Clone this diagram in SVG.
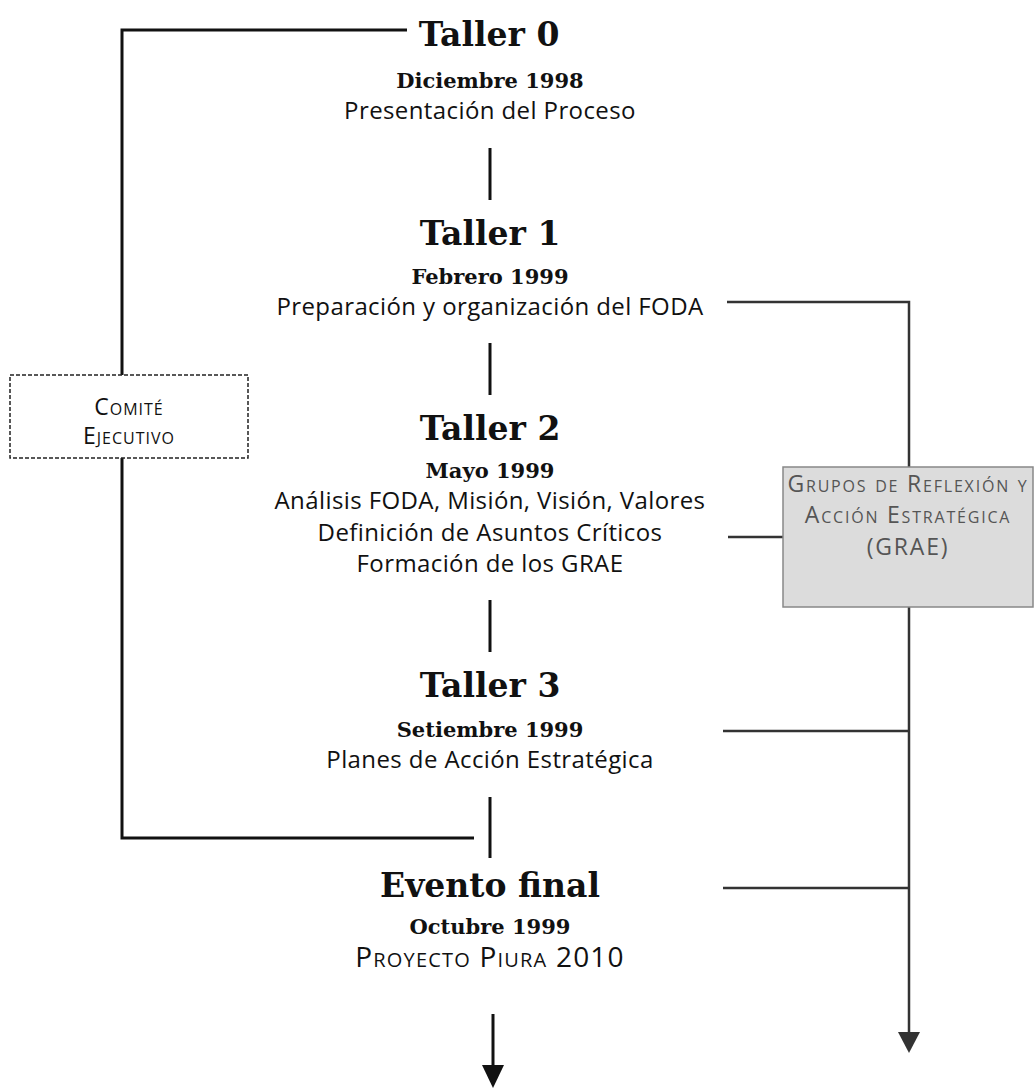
<svg xmlns="http://www.w3.org/2000/svg" width="1035" height="1088" viewBox="0 0 1035 1088">
<style>
.title{font-family:"DejaVu Serif","Liberation Serif",serif;font-weight:bold;font-size:33px;fill:#111;text-anchor:middle}
.date{font-family:"DejaVu Serif","Liberation Serif",serif;font-weight:bold;font-size:21px;fill:#111;text-anchor:middle}
.body{font-family:"Open Sans","Noto Sans",sans-serif;font-size:24px;letter-spacing:0.4px;fill:#111;text-anchor:middle}
.sc{font-variant:small-caps}
.ln{stroke:#111;stroke-width:3;fill:none}
.rl{stroke:#333;stroke-width:2.5;fill:none}
.grae{font-family:"Open Sans","Noto Sans",sans-serif;font-size:23px;letter-spacing:1.8px;fill:#555;text-anchor:middle;font-variant:small-caps}
</style>
<rect width="1035" height="1088" fill="#fff"/>
<g id="connectors">
  <path class="ln" d="M122,375 V30 H407"/>
  <path class="ln" d="M122,458 V838 H474"/>
  <path class="ln" d="M490,148 V200"/>
  <path class="ln" d="M490,343 V395"/>
  <path class="ln" d="M490,600 V652"/>
  <path class="ln" d="M490,797 V858"/>
  <path class="ln" d="M493,1014 V1068"/>
  <polygon points="482,1065 504,1065 493,1088" fill="#111"/>
  <path class="rl" d="M727,302 H909 V467"/>
  <path class="rl" d="M728,537 H783"/>
  <path class="rl" d="M909,607 V1036"/>
  <path class="rl" d="M723,731 H909"/>
  <path class="rl" d="M723,888 H909"/>
  <polygon points="898,1032 920,1032 909,1053" fill="#333"/>
</g>
<g id="taller0">
  <text class="title" x="489" y="46">Taller 0</text>
  <text class="date" x="490" y="88">Diciembre 1998</text>
  <text class="body" x="490" y="119">Presentación del Proceso</text>
</g>
<g id="taller1">
  <text class="title" x="490" y="245">Taller 1</text>
  <text class="date" x="490" y="284">Febrero 1999</text>
  <text class="body" x="490" y="315">Preparación y organización del FODA</text>
</g>
<g id="taller2">
  <text class="title" x="490" y="440">Taller 2</text>
  <text class="date" x="490" y="478">Mayo 1999</text>
  <text class="body" x="490" y="509">Análisis FODA, Misión, Visión, Valores</text>
  <text class="body" x="490" y="541">Definición de Asuntos Críticos</text>
  <text class="body" x="490" y="572">Formación de los GRAE</text>
</g>
<g id="taller3">
  <text class="title" x="490" y="697">Taller 3</text>
  <text class="date" x="490" y="737">Setiembre 1999</text>
  <text class="body" x="490" y="768">Planes de Acción Estratégica</text>
</g>
<g id="evento-final">
  <text class="title" x="490" y="897">Evento final</text>
  <text class="date" x="490" y="934">Octubre 1999</text>
  <text class="body sc" x="490" y="967" style="font-size:28px;letter-spacing:1.2px">Proyecto Piura 2010</text>
</g>
<g id="comite-ejecutivo">
  <rect x="10" y="375" width="238" height="83" fill="#fff" stroke="#222" stroke-width="1.5" stroke-dasharray="4,2"/>
  <text class="body sc" x="129" y="415" style="font-size:23px;letter-spacing:1px">Comité</text>
  <text class="body sc" x="129" y="444" style="font-size:23px;letter-spacing:1px">Ejecutivo</text>
</g>
<g id="grae">
  <rect x="783" y="467" width="250" height="140" fill="#dcdcdc" stroke="#888" stroke-width="1.5"/>
  <text class="grae" x="908" y="492">Grupos de Reflexión y</text>
  <text class="grae" x="908" y="523">Acción Estratégica</text>
  <text class="grae" x="908" y="555">(GRAE)</text>
</g>
</svg>
